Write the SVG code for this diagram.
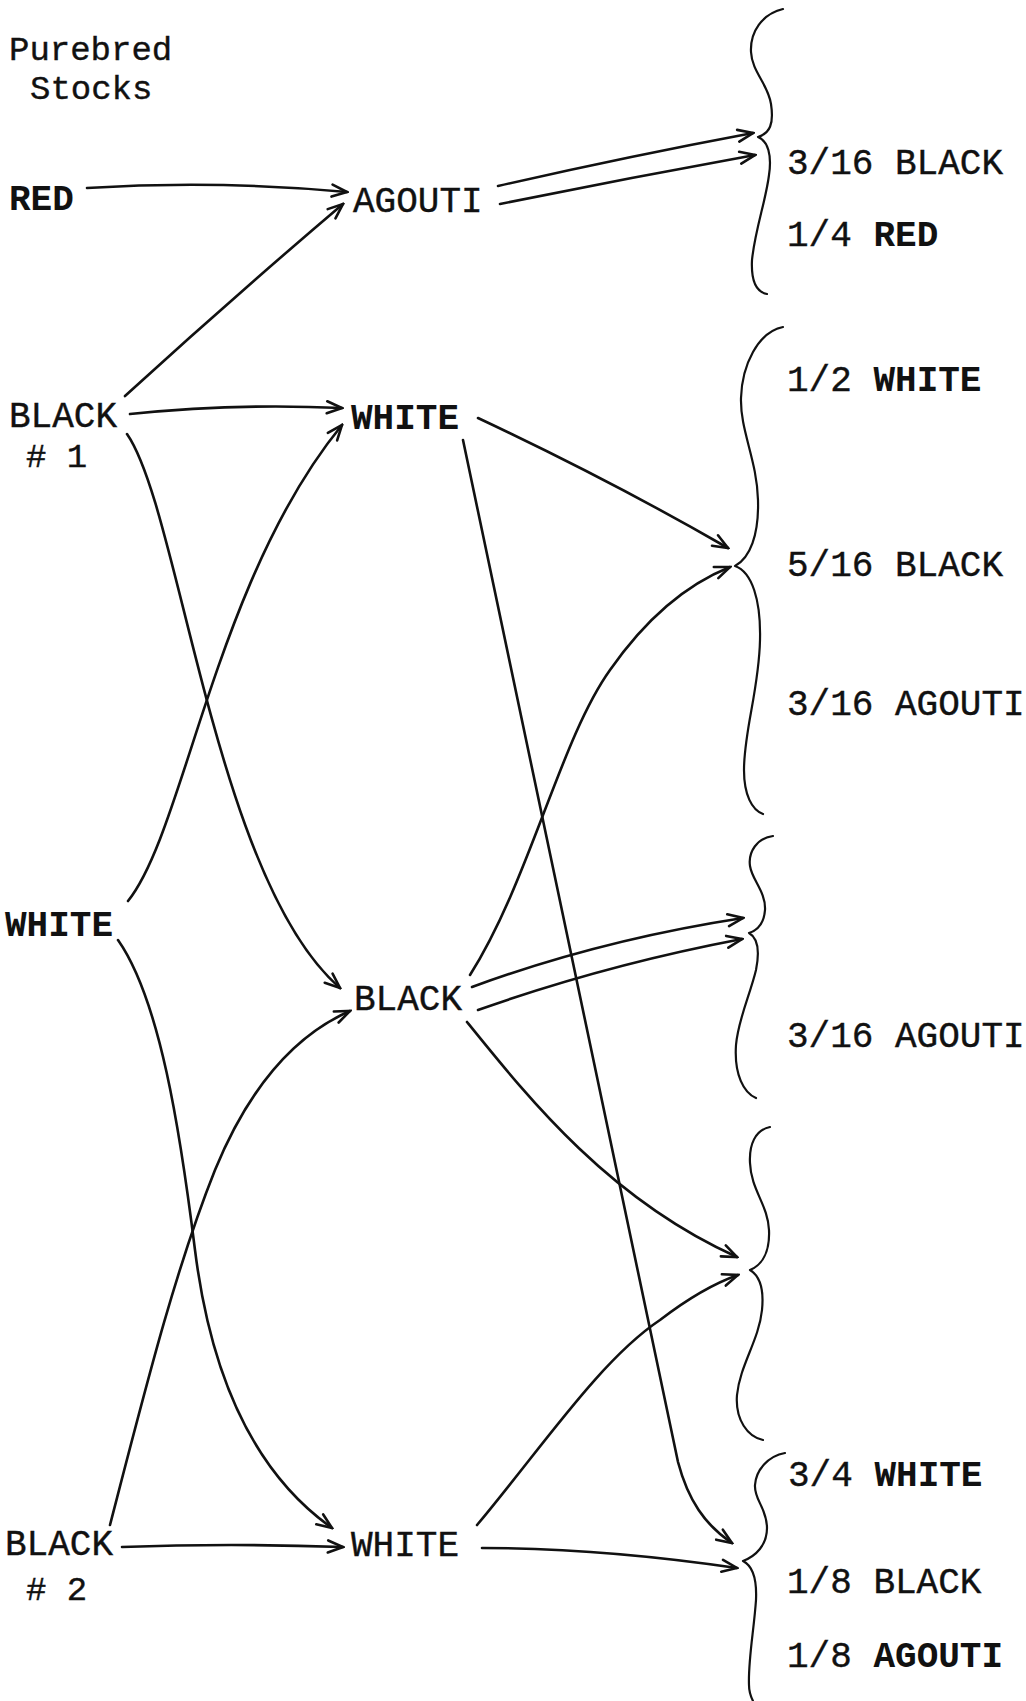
<svg xmlns="http://www.w3.org/2000/svg" width="1026" height="1701" viewBox="0 0 1026 1701">
<defs>
<style>
text{font-family:"Liberation Mono","Courier New",monospace;font-size:36px;fill:#111;stroke:#111;stroke-width:0.4;}
.b{font-weight:bold;stroke-width:0;}
.s{font-size:34px;}
.c{fill:none;stroke:#111;stroke-width:2.6;stroke-linecap:round;}
.br{fill:none;stroke:#111;stroke-width:2.2;stroke-linecap:round;stroke-linejoin:round;}
</style>
<marker id="ah" markerUnits="userSpaceOnUse" viewBox="-18 -9 20 18" markerWidth="20" markerHeight="18" refX="0" refY="0" orient="auto">
<path d="M-15,-6 L0,0 L-15,6" fill="none" stroke="#111" stroke-width="2.6" stroke-linecap="round" stroke-linejoin="miter"/>
</marker>
</defs>
<rect width="1026" height="1701" fill="#fff"/>

<g id="title"><text x="9" y="60" class="s">Purebred</text><text x="30" y="99" class="s">Stocks</text></g>

<g id="n-red"><text x="9" y="210" class="b">RED</text></g>
<g id="n-black1"><text x="9" y="427">BLACK</text><text x="26" y="467" class="s"># 1</text></g>
<g id="n-white"><text x="5" y="936" class="b">WHITE</text></g>
<g id="n-black2"><text x="5" y="1555">BLACK</text><text x="26" y="1600" class="s"># 2</text></g>

<g id="m-agouti"><text x="353" y="212">AGOUTI</text></g>
<g id="m-white1"><text x="351" y="429" class="b">WHITE</text></g>
<g id="m-black"><text x="354" y="1010">BLACK</text></g>
<g id="m-white2"><text x="351" y="1556">WHITE</text></g>

<g id="r1">
<path class="br" d="M783,9 C762,14 750,32 751,52 C752,72 768,84 771,104 C774,124 770,133 758,137 C768,141 772,155 769,175 C766,200 755,230 752,260 C751,280 756,292 767,294"/>
<text x="787" y="174">3/16 BLACK</text>
<text x="787" y="246">1/4  <tspan class="b">RED</tspan></text>
</g>
<g id="r2">
<path class="br" d="M783,327 C758,332 742,365 741,398 C740,430 757,460 758,500 C759,535 750,558 735,566 C752,572 761,600 760,640 C759,690 744,730 744,770 C744,795 752,810 763,814"/>
<text x="787" y="391">1/2  <tspan class="b">WHITE</tspan></text>
<text x="787" y="576">5/16 BLACK</text>
<text x="787" y="715">3/16 AGOUTI</text>
</g>
<g id="r3">
<path class="br" d="M773,836 C757,838 748,852 750,866 C752,880 766,892 765,910 C764,924 758,930 749,933 C758,938 760,950 756,970 C750,995 738,1020 736,1045 C734,1075 744,1093 756,1098"/>
<text x="787" y="1047">3/16 AGOUTI</text>
</g>
<g id="r4">
<path class="br" d="M770,1127 C755,1130 749,1145 750,1163 C751,1190 768,1205 769,1230 C770,1252 762,1265 750,1270 C760,1276 764,1290 762,1310 C759,1340 740,1365 737,1395 C735,1420 748,1437 763,1440"/>
</g>
<g id="r5">
<path class="br" d="M785,1453 C768,1456 756,1470 755,1485 C754,1500 767,1508 767,1528 C767,1545 756,1556 743,1561 C753,1566 757,1578 756,1600 C754,1630 748,1660 749,1685 C749,1692 751,1697 753,1701"/>
<text x="788" y="1486">3/4 <tspan class="b">WHITE</tspan></text>
<text x="787" y="1593">1/8 BLACK</text>
<text x="787" y="1667">1/8 <tspan class="b">AGOUTI</tspan></text>
</g>

<g id="connectors">
<path class="c" marker-end="url(#ah)" d="M87,188 Q217,180 347,192"/>
<path class="c" marker-end="url(#ah)" d="M125,396 Q230,300 343,204"/>
<path class="c" marker-end="url(#ah)" d="M130,414 Q236,403 342,408"/>
<path class="c" marker-end="url(#ah)" d="M128,901 C185,830 215,580 342,425"/>
<path class="c" marker-end="url(#ah)" d="M127,434 C180,510 215,880 340,988"/>
<path class="c" marker-end="url(#ah)" d="M118,940 C160,1000 180,1130 195,1250 C210,1370 250,1470 332,1528"/>
<path class="c" marker-end="url(#ah)" d="M110,1525 C145,1390 175,1270 215,1170 C250,1085 295,1035 350,1011"/>
<path class="c" marker-end="url(#ah)" d="M122,1547 Q230,1543 343,1547"/>

<path class="c" marker-end="url(#ah)" d="M498,186 Q625,157 753,133"/>
<path class="c" marker-end="url(#ah)" d="M500,204 Q628,178 755,155"/>
<path class="c" marker-end="url(#ah)" d="M478,418 Q610,480 728,548"/>
<path class="c" marker-end="url(#ah)" d="M470,975 C530,880 560,740 610,670 C645,620 685,585 730,567"/>
<path class="c" marker-end="url(#ah)" d="M463,440 L678,1462 C688,1500 705,1525 732,1543"/>
<path class="c" marker-end="url(#ah)" d="M472,987 Q600,940 743,918"/>
<path class="c" marker-end="url(#ah)" d="M478,1010 Q605,965 742,939"/>
<path class="c" marker-end="url(#ah)" d="M467,1022 C530,1100 610,1200 737,1257"/>
<path class="c" marker-end="url(#ah)" d="M477,1525 C540,1450 600,1360 660,1320 C690,1297 715,1283 738,1275"/>
<path class="c" marker-end="url(#ah)" d="M482,1548 Q600,1548 737,1568"/>
</g>
</svg>
